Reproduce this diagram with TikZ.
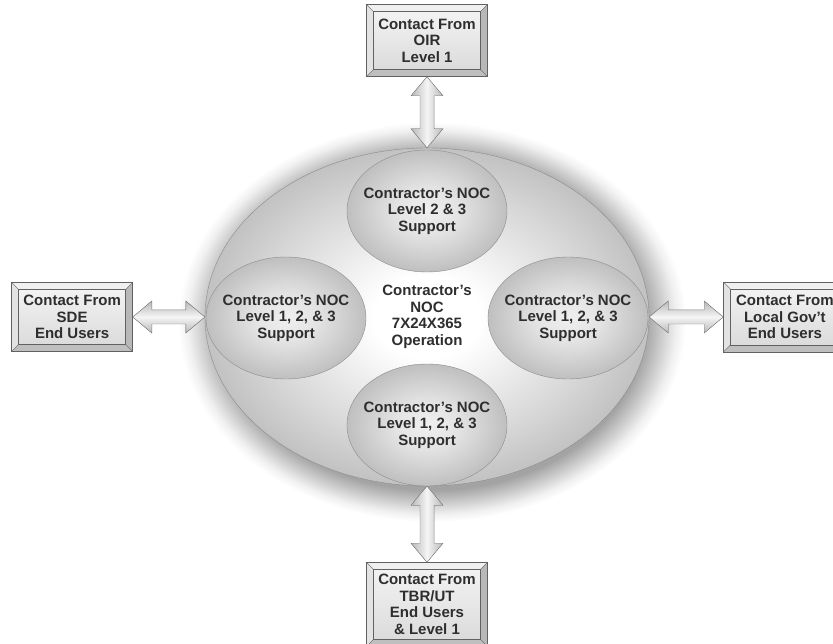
\documentclass[tikz,border=0pt]{standalone}
\usepackage{fontspec}
\newfontfamily\arialfont{Liberation Sans}
\usetikzlibrary{calc,positioning,shapes.geometric}

\pgfdeclareradialshading{nocfill}{\pgfpoint{0bp}{0bp}}{color(0bp)=(white); color(6bp)=(white); color(19bp)=(black!16); color(25bp)=(black!24); color(50bp)=(black!24)}
\pgfdeclareradialshading{supportfill}{\pgfpoint{0bp}{0bp}}{color(0bp)=(black!6); color(10bp)=(black!11); color(25bp)=(black!25); color(50bp)=(black!25)}
\pgfdeclareradialshading{nocglow}{\pgfpoint{0bp}{0bp}}{color(0bp)=(black!36); color(21bp)=(black!36); color(22.8bp)=(black!18); color(24bp)=(black!6); color(25bp)=(white); color(50bp)=(white)}

\tikzset{
  noc/.style={ellipse,draw=black!45,shade,shading=nocfill,minimum width=444pt,
    minimum height=338pt,inner sep=0pt},
  support/.style={ellipse,draw=black!45,shade,shading=supportfill,minimum width=160pt,
    minimum height=122pt,inner sep=-12pt},
  contact/.style={rectangle,draw=black!62,fill=black!20,minimum width=121pt,
    minimum height=69pt,inner sep=0pt,
    path picture={
      \coordinate (bnw) at (path picture bounding box.north west);
      \coordinate (bse) at (path picture bounding box.south east);
      \coordinate (bne) at (bnw -| bse);
      \coordinate (bsw) at (bse -| bnw);
      \fill[black!6] (bnw) -- (bne) -- ([shift={(-7pt,-7pt)}]bne) -- ([shift={(7pt,-7pt)}]bnw) -- cycle;
      \fill[black!11] (bnw) -- (bsw) -- ([shift={(7pt,7pt)}]bsw) -- ([shift={(7pt,-7pt)}]bnw) -- cycle;
      \fill[black!25] (bsw) -- (bse) -- ([shift={(-7pt,7pt)}]bse) -- ([shift={(7pt,7pt)}]bsw) -- cycle;
      \fill[black!28] (bne) -- (bse) -- ([shift={(-7pt,7pt)}]bse) -- ([shift={(-7pt,-7pt)}]bne) -- cycle;
      \draw[black!62,top color=black!5,bottom color=black!14]
        ([shift={(7pt,-7pt)}]bnw) rectangle ([shift={(-7pt,7pt)}]bse);
      \draw[black!62] (bnw) -- ++(7pt,-7pt) (bne) -- ++(-7pt,-7pt)
        (bsw) -- ++(7pt,7pt) (bse) -- ++(-7pt,7pt);
    }},
  blockarrow/.style={draw=black!50,line join=miter}
}

% block arrows between two anchors
\newcommand{\varrow}[2]{%
  \filldraw[blockarrow,left color=black!28,right color=black!28,middle color=black!4]
    (#1) -- ([shift={(-16pt,-19pt)}]#1) -- ([shift={(-7pt,-19pt)}]#1)
    -- ([shift={(-7pt,19pt)}]#2) -- ([shift={(-16pt,19pt)}]#2) -- (#2)
    -- ([shift={(16pt,19pt)}]#2) -- ([shift={(7pt,19pt)}]#2)
    -- ([shift={(7pt,-19pt)}]#1) -- ([shift={(16pt,-19pt)}]#1) -- cycle;}
\newcommand{\harrow}[2]{%
  \filldraw[blockarrow,top color=black!28,bottom color=black!28,middle color=black!4]
    (#1) -- ([shift={(19pt,16pt)}]#1) -- ([shift={(19pt,7pt)}]#1)
    -- ([shift={(-19pt,7pt)}]#2) -- ([shift={(-19pt,16pt)}]#2) -- (#2)
    -- ([shift={(-19pt,-16pt)}]#2) -- ([shift={(-19pt,-7pt)}]#2)
    -- ([shift={(19pt,-7pt)}]#1) -- ([shift={(19pt,-16pt)}]#1) -- cycle;}

\begin{document}
\begin{tikzpicture}[x=1pt,y=-1pt,
  every node/.style={font=\arialfont\bfseries\fontsize{15}{16.6}\selectfont,
    text=black!82,align=center}]
  \useasboundingbox (0,0) rectangle (833,644);
  \shade[shading=nocglow] (432,322) ellipse [x radius=254, y radius=200];

  \node[noc] (noc) at (427,317) {Contractor’s\\NOC\\7X24X365\\Operation};
  \node[support] (northsup) at (427,211) {Contractor’s NOC\\Level 2 \& 3\\Support};
  \node[support] (westsup) at (286,318) {Contractor’s NOC\\Level 1, 2, \& 3\\Support};
  \node[support] (eastsup) at (568,318) {Contractor’s NOC\\Level 1, 2, \& 3\\Support};
  \node[support] (southsup) at (427,425) {Contractor’s NOC\\Level 1, 2, \& 3\\Support};

  \node[contact,minimum height=72pt,above=71pt of noc] (oir) {Contact From\\OIR\\Level 1};
  \node[contact,left=72pt of noc] (sde) {Contact From\\SDE\\End Users};
  \node[contact,minimum width=123pt,minimum height=70pt,right=74pt of noc] (gov)
    {Contact From\\Local Gov’t\\End Users};
  \node[contact,minimum height=84pt,below=76pt of noc] (tbr)
    {Contact From\\TBR/UT\\End Users\\\& Level 1};

  \varrow{oir.south}{noc.north}
  \varrow{noc.south}{tbr.north}
  \harrow{sde.east}{noc.west}
  \harrow{noc.east}{gov.west}
\end{tikzpicture}
\end{document}
